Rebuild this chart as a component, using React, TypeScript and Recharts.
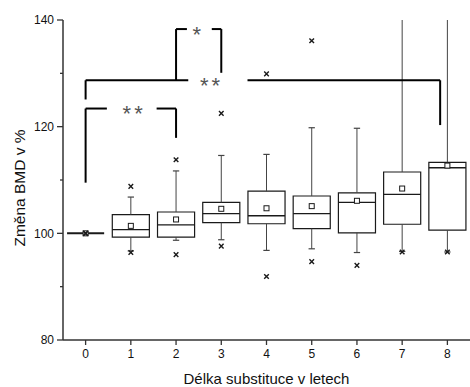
import React from "react";
import {
  ComposedChart,
  ReferenceArea,
  ReferenceLine,
  Scatter,
  XAxis,
  YAxis,
} from "recharts";

// years of substitution (x categories)
const years = [0, 1, 2, 3, 4, 5, 6, 7, 8];

// box plot statistics, % change of BMD
const q1 = [100, 99.3, 99.3, 102.0, 101.8, 100.9, 100.1, 101.7, 100.6];
const median = [100, 100.7, 101.6, 103.7, 103.3, 103.7, 105.8, 107.3, 112.3];
const q3 = [100, 103.5, 104.0, 105.8, 107.9, 107.0, 107.6, 111.5, 113.3];
const mean = [100, 101.4, 102.6, 104.6, 104.7, 105.1, 106.1, 108.4, 112.7];
const whiskerLow = [100, 96.7, 98.7, 98.8, 96.8, 97.1, 96.4, 96.6, 96.5];
const whiskerHigh = [100, 106.8, 111.7, 114.6, 114.8, 119.8, 119.7, 150, 150];
const minValue = [100, 96.4, 96.0, 97.6, 91.9, 94.7, 94.0, 96.5, 96.5];
const maxValue = [100, 108.8, 113.8, 122.5, 129.9, 136.1, null, null, null];

const yTicks = [80, 90, 100, 110, 120, 130, 140];
const yLabelled = [80, 100, 120, 140];

// significance brackets (data coordinates)
const brackets = [
  { left: 0, right: 2, top: 123.4, leftFoot: 109.5, rightFoot: 117.9, gapFrom: 0.47, gapTo: 1.57, markAt: 1.04, mark: "**" },
  { left: 0, right: 7.84, top: 128.7, leftFoot: 125.1, rightFoot: 120.3, gapFrom: 2.27, gapTo: 3.58, markAt: 2.75, mark: "**" },
  { left: 2, right: 3, top: 138.3, leftFoot: 128.7, rightFoot: 130.1, gapFrom: 2.24, gapTo: 2.79, markAt: 2.46, mark: "*" },
];

const HALF = 0.41;
const CAP = 0.07;
const INK = "#1a1a1a";

const meanPoints = years.map((x, i) => ({ x, y: mean[i] }));
const outlierPoints = years.flatMap((x, i) =>
  [minValue[i], maxValue[i]].filter((v) => v !== null).map((y) => ({ x, y }))
);
const markPoints = brackets.map((b) => ({ x: b.markAt, y: b.top, mark: b.mark }));

function YTick({ x, y, payload }: any) {
  const major = yLabelled.includes(payload.value);
  return (
    <g>
      <line x1={x - (major ? 6 : 3)} x2={x} y1={y} y2={y} stroke="#333" strokeWidth={1.3} />
      {major && (
        <text x={x - 9} y={y} dy="0.35em" textAnchor="end" fontSize={12} fill="#111">
          {payload.value}
        </text>
      )}
    </g>
  );
}

function YTitle({ viewBox }: any) {
  const cx = viewBox.x + 19;
  const cy = viewBox.y + viewBox.height / 2 + 8;
  return (
    <text
      x={cx}
      y={cy}
      transform={`rotate(-90 ${cx} ${cy})`}
      textAnchor="middle"
      dy="0.36em"
      fontSize={15.5}
      fill="#111"
    >
      Změna BMD v %
    </text>
  );
}

const Cross = ({ cx, cy }: any) => {
  const s = 2.3;
  return (
    <path
      d={`M${cx - s},${cy - s}L${cx + s},${cy + s}M${cx - s},${cy + s}L${cx + s},${cy - s}`}
      stroke={INK}
      strokeWidth={1.4}
    />
  );
};

const Square = ({ cx, cy }: any) => (
  <rect x={cx - 2.5} y={cy - 2.5} width={5} height={5} fill="#fff" stroke={INK} strokeWidth={1} />
);

const Mark = ({ cx, cy, payload }: any) => (
  <text
    x={cx + 1.5}
    y={cy + 12.5}
    textAnchor="middle"
    fontSize={22}
    letterSpacing={3}
    fill="#555"
  >
    {payload.mark}
  </text>
);

const seg = (x1: number, y1: number, x2: number, y2: number) => [
  { x: x1, y: y1 },
  { x: x2, y: y2 },
];

export default function App() {
  return (
    <div
      style={{
        position: "absolute",
        left: 0,
        top: 0,
        width: 470,
        height: 387,
        background: "#fff",
        fontFamily: '"Liberation Sans", Arial, sans-serif',
      }}
    >
      <ComposedChart
        width={470}
        height={387}
        data={meanPoints}
        margin={{ top: 20, right: 0, left: 0, bottom: 0 }}
      >
        <XAxis
          type="number"
          dataKey="x"
          domain={[-0.5, 8.5]}
          ticks={years}
          interval={0}
          allowDataOverflow
          height={47}
          tickSize={5}
          tickMargin={4}
          axisLine={{ stroke: "#333", strokeWidth: 1.5 }}
          tickLine={{ stroke: "#333", strokeWidth: 1.3 }}
          tick={{ fontSize: 12, fill: "#111" }}
          label={{
            value: "Délka substituce v letech",
            position: "insideBottom",
            offset: 3,
            fontSize: 15,
            fill: "#111",
          }}
        />
        <YAxis
          type="number"
          dataKey="y"
          domain={[80, 140]}
          ticks={yTicks}
          interval={0}
          allowDataOverflow
          width={63}
          tickSize={0}
          tickMargin={0}
          tickLine={false}
          axisLine={{ stroke: "#333", strokeWidth: 1.5 }}
          tick={<YTick />}
          label={{ content: <YTitle /> }}
        />

        {years.map((x, i) => (
          <ReferenceLine
            key={`wl${i}`}
            segment={seg(x, whiskerLow[i], x, q1[i])}
            stroke="#444"
            strokeWidth={1}
            ifOverflow="hidden"
          />
        ))}
        {years.map((x, i) => (
          <ReferenceLine
            key={`wh${i}`}
            segment={seg(x, q3[i], x, whiskerHigh[i])}
            stroke="#444"
            strokeWidth={1}
            ifOverflow="hidden"
          />
        ))}
        {years.slice(1).map((x) => (
          <ReferenceLine
            key={`cl${x}`}
            segment={seg(x - CAP, whiskerLow[x], x + CAP, whiskerLow[x])}
            stroke="#444"
            strokeWidth={1.2}
            ifOverflow="hidden"
          />
        ))}
        {years.slice(1).map((x) => (
          <ReferenceLine
            key={`ch${x}`}
            segment={seg(x - CAP, whiskerHigh[x], x + CAP, whiskerHigh[x])}
            stroke="#444"
            strokeWidth={1.2}
            ifOverflow="hidden"
          />
        ))}
        {years.map((x, i) => (
          <ReferenceArea
            key={`b${i}`}
            x1={x - HALF}
            x2={x + HALF}
            y1={q1[i]}
            y2={q3[i]}
            fill="#fff"
            fillOpacity={1}
            stroke={INK}
            strokeWidth={1.2}
            ifOverflow="hidden"
          />
        ))}
        {years.map((x, i) => (
          <ReferenceLine
            key={`m${i}`}
            segment={seg(x - HALF, median[i], x + HALF, median[i])}
            stroke={INK}
            strokeWidth={i === 0 ? 2 : 1.3}
            ifOverflow="hidden"
          />
        ))}

        {brackets.flatMap((b, k) => [
          <ReferenceLine key={`bl${k}`} segment={seg(b.left, b.leftFoot, b.left, b.top)} stroke="#000" strokeWidth={2} ifOverflow="hidden" />,
          <ReferenceLine key={`bt${k}`} segment={seg(b.left, b.top, b.gapFrom, b.top)} stroke="#000" strokeWidth={2} ifOverflow="hidden" />,
          <ReferenceLine key={`bu${k}`} segment={seg(b.gapTo, b.top, b.right, b.top)} stroke="#000" strokeWidth={2} ifOverflow="hidden" />,
          <ReferenceLine key={`br${k}`} segment={seg(b.right, b.top, b.right, b.rightFoot)} stroke="#000" strokeWidth={2} ifOverflow="hidden" />,
        ])}

        <Scatter data={meanPoints} dataKey="y" shape={<Square />} isAnimationActive={false} />
        <Scatter data={outlierPoints} dataKey="y" shape={<Cross />} isAnimationActive={false} />
        <Scatter data={markPoints} dataKey="y" shape={<Mark />} isAnimationActive={false} />
      </ComposedChart>
    </div>
  );
}
